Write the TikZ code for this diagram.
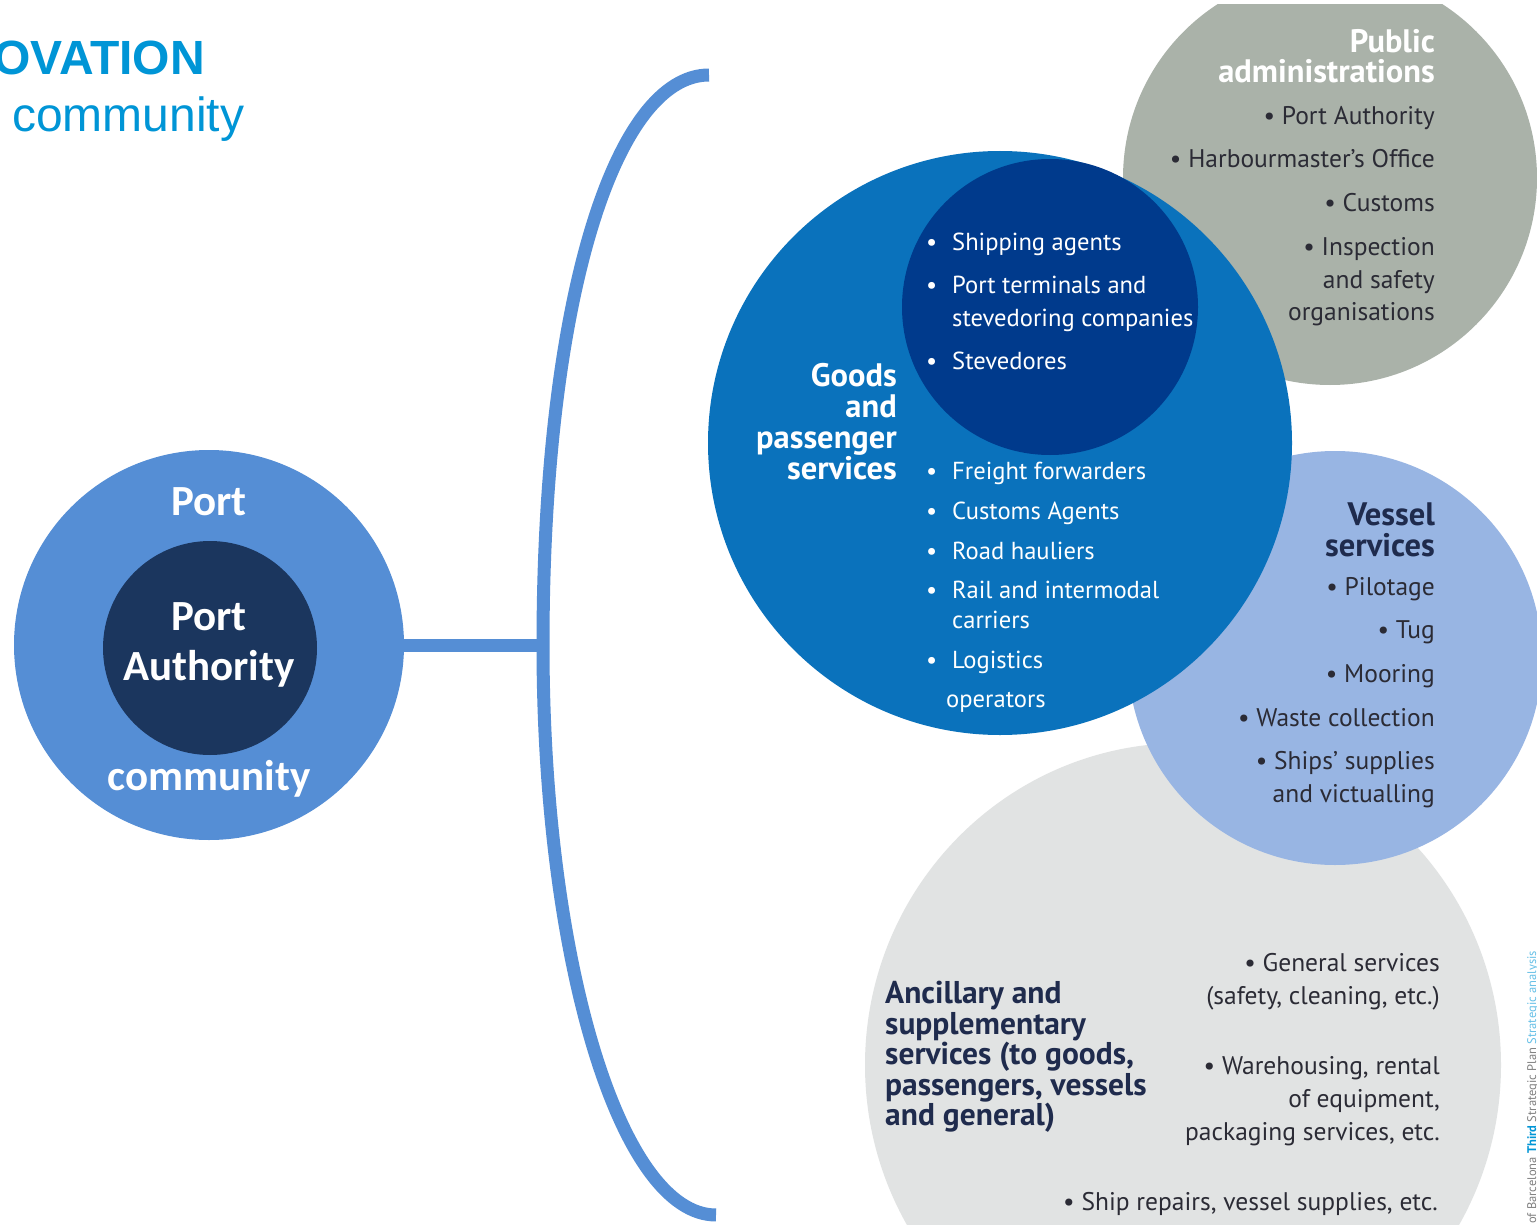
\documentclass[tikz,border=0pt]{standalone}
\usepackage{fontspec}
\setmainfont{PT Sans}
\newfontfamily\calib{Carlito}
\newfontfamily\arialf{Liberation Sans}
\newfontfamily\fru{PT Sans}
\usetikzlibrary{shapes.geometric}
\definecolor{titleblue}{HTML}{0095D6}
\definecolor{pcblue}{HTML}{558ED5}
\definecolor{panavy}{HTML}{1B365E}
\definecolor{pubgrey}{HTML}{AAB2A9}
\definecolor{goodsblue}{HTML}{0A72BC}
\definecolor{innerblue}{HTML}{003A8C}
\definecolor{vesselblue}{HTML}{98B5E3}
\definecolor{ancgrey}{HTML}{E1E3E3}
\definecolor{navytxt}{HTML}{1F2B4D}
\definecolor{darktxt}{HTML}{2B2B35}
\begin{document}
\begin{tikzpicture}[x=1pt,y=-1pt,
  circ/.style={circle, inner sep=0pt, minimum size=#1},
  brk/.style={draw=pcblue, line width=13pt},
  pctxt/.style={anchor=base, inner sep=0pt, text=white, font=\calib\bfseries\fontsize{43}{43}\selectfont},
  glist/.style={anchor=mid west, inner sep=0pt, yshift=-6pt, text=white, font=\fru\fontsize{24.6}{24.6}\selectfont},
  ghead/.style={anchor=mid east, inner sep=0pt, yshift=-6pt, text=white, font=\fru\bfseries\fontsize{32.5}{32.5}\selectfont},
  rlist/.style={anchor=mid east, inner sep=0pt, yshift=-6pt, text=darktxt, font=\fru\fontsize{25.5}{25.5}\selectfont},
  rhead/.style={anchor=mid east, inner sep=0pt, yshift=-6pt, text=navytxt, font=\fru\bfseries\fontsize{32.5}{32.5}\selectfont},
  lhead/.style={anchor=mid west, inner sep=0pt, yshift=-6pt, text=navytxt, font=\fru\bfseries\fontsize{31.5}{31.5}\selectfont}]
\useasboundingbox (0,0) rectangle (1537,1225);
\fill[white] (0,0) rectangle (1537,1225);

% title
\node[anchor=base west, inner sep=0pt, text=titleblue, font=\arialf\bfseries\fontsize{48}{48}\selectfont] (ttl1) at (-7,75) {OVATION};
\node[anchor=base west, inner sep=0pt, text=titleblue, font=\arialf\fontsize{48}{48}\selectfont] (ttl2) at (12,132) {community};

% port community circles
\node[circ=390pt, fill=pcblue] (pc) at (209,645) {};
\node[circ=214pt, fill=panavy] (pa) at (210,648) {};
\node[pctxt] (pct1) at (209,515) {Port};
\node[pctxt] (pat1) at (209,630) {Port};
\node[pctxt] (pat2) at (209,680) {Authority};
\node[pctxt] (pct2) at (209,790) {community};

% bracket and connector
\coordinate (btop) at (709,75);
\coordinate (bmid) at (543,645);
\coordinate (bbot) at (716,1215);
\draw[brk] (pc.east) -- (bmid);
\draw[brk] (btop) .. controls (615,75) and (543,300) .. (bmid) .. controls (543,960) and (620,1215) .. (bbot);

% right-hand circles
\node[ellipse, inner sep=0pt, minimum width=636pt, minimum height=644pt, fill=ancgrey] (anc) at (1183,1065) {};
\begin{scope}
\clip (0,5) rectangle (1537,1225);
\node[circ=414pt, fill=pubgrey] (pub) at (1330,178) {};
\end{scope}
\node[circ=414pt, fill=vesselblue] (ves) at (1335,658) {};
\node[circ=584pt, fill=goodsblue] (goods) at (1000,443) {};
\node[circ=296pt, fill=innerblue] (inner) at (1050,307) {};

% public administrations
\foreach \t/\y [count=\i] in {Public/44, administrations/74}
  \node[rhead, text=white] (ph\i) at (1435,\y) {\t};
\foreach \t/\y [count=\i] in {{• Port Authority}/116, {• Harbourmaster’s Office}/159, {• Customs}/203, {• Inspection}/247, {and safety}/280, {organisations}/312}
  \node[rlist] (pl\i) at (1435,\y) {\t};

% goods and passenger services
\foreach \t/\y [count=\i] in {Goods/378, and/409, passenger/440, services/471}
  \node[ghead] (gh\i) at (897,\y) {\t};
\foreach \t/\y [count=\i] in {{Shipping agents}/242, {Port terminals and}/285, {Stevedores}/361, {Freight forwarders}/471, {Customs Agents}/511, {Road hauliers}/551, {Rail and intermodal}/590, {Logistics}/660}
  \node[glist] (gl\i) at (926,\y) {\makebox[26pt][l]{•}\t};
\node[glist] (gc1) at (952,318) {stevedoring companies};
\node[glist] (gc2) at (952,620) {carriers};
\node[glist] (gc3) at (946,699) {operators};

% vessel services
\foreach \t/\y [count=\i] in {Vessel/517, services/548}
  \node[rhead] (vh\i) at (1435,\y) {\t};
\foreach \t/\y [count=\i] in {{• Pilotage}/587, {• Tug}/630, {• Mooring}/674, {• Waste collection}/718, {• Ships’ supplies}/761, {and victualling}/794}
  \node[rlist] (vl\i) at (1435,\y) {\t};

% ancillary
\foreach \t/\y [count=\i] in {{Ancillary and}/995, {supplementary}/1026, {services (to goods,}/1056, {passengers, vessels}/1087, {and general)}/1117}
  \node[lhead] (ah\i) at (885,\y) {\t};
\foreach \t/\y [count=\i] in {{• General services}/963, {(safety, cleaning, etc.)}/996, {• Warehousing, rental}/1066, {of equipment,}/1099, {packaging services, etc.}/1132}
  \node[rlist] (al\i) at (1440,\y) {\t};
\node[rlist] (al6) at (1438,1202) {• Ship repairs, vessel supplies, etc.};

% source note
\node[rotate=90, anchor=south west, inner sep=0pt, text=gray, font=\fru\fontsize{12.5}{12.5}\selectfont] (src) at (1539,1224) {of Barcelona {\color{titleblue}\bfseries Third} Strategic Plan {\color{titleblue!60}Strategic analysis}};
\end{tikzpicture}
\end{document}
